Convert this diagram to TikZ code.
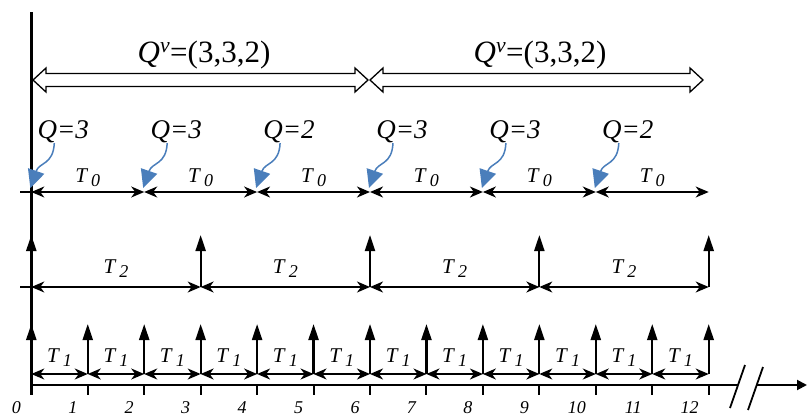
\documentclass[tikz,border=0pt]{standalone}
\usepackage{fontspec}
\setmainfont{Liberation Serif}
\usetikzlibrary{arrows.meta,calc}
\definecolor{qblue}{RGB}{74,126,187}
\tikzset{
  axisline/.style={line width=2.4pt},
  tickline/.style={line width=2pt},
  span/.style={line width=1.6pt,
    {Stealth[length=13pt,width=11pt,inset=4pt]}-{Stealth[length=13pt,width=11pt,inset=4pt]}},
  pulse/.style={line width=2.2pt, -{Triangle[length=16pt,width=10pt]}},
  qarrow/.style={qblue, line width=1.5pt, -{Triangle[length=18pt,width=17pt]}},
  hollow/.style={draw=black, fill=white, line width=1.3pt, line join=miter},
  tlabel/.style={font=\fontsize{21}{22}\selectfont, inner sep=0, anchor=base},
  qlabel/.style={font=\fontsize{27}{28}\selectfont\itshape, inner sep=0, anchor=base},
  qvlabel/.style={font=\fontsize{31}{32}\selectfont, inner sep=0, anchor=base},
  numlabel/.style={font=\fontsize{18}{18}\selectfont\itshape, inner sep=0, anchor=base},
}
\newcommand{\Tsub}[1]{\textit{T}\hspace{3pt}\raisebox{-4pt}{\fontsize{18}{18}\selectfont\textit{#1}}}
\begin{document}
\begin{tikzpicture}[x=1pt,y=-1pt]
\useasboundingbox (0,0) rectangle (807,418);
% tick coordinates
\foreach \i in {0,...,12}{
  \pgfmathsetmacro{\xx}{31.3+56.45*\i}
  \coordinate (a\i) at (\xx,385);
  \coordinate (ab\i) at (\xx,395);
  \coordinate (b\i) at (\xx,374);
  \coordinate (p\i) at (\xx,324);
}
\foreach \j in {0,...,4}{
  \pgfmathsetmacro{\xx}{31.3+56.45*3*\j}
  \coordinate (c\j) at (\xx,287);
  \coordinate (d\j) at (\xx,235);
}
\foreach \k in {0,...,6}{
  \pgfmathsetmacro{\xx}{31.3+56.45*2*\k}
  \coordinate (e\k) at (\xx,192);
}
% axes
\coordinate (ytop) at (31.3,12);
\coordinate (ybot) at (31.3,395);
\draw[axisline] (ytop) -- (ybot);
\coordinate (brkL) at (738,385);
\coordinate (brkR) at (757,385);
\coordinate (xend) at (807,385);
\draw[axisline] (a0) -- (brkL);
\draw[line width=2pt,-{Triangle[length=10pt,width=10pt]}] (brkR) -- (xend);
\coordinate (s1a) at (730,408); \coordinate (s1b) at (745,365);
\coordinate (s2a) at (748,410); \coordinate (s2b) at (763,367);
\draw[line width=1.8pt] (s1a) -- (s1b);
\draw[line width=1.8pt] (s2a) -- (s2b);
\foreach \i in {1,...,12}{ \draw[tickline] (a\i) -- (ab\i); }
\coordinate (yt0) at (20,192); \coordinate (yt2) at (20,287);
\draw[tickline] (yt0) -- (e0);
\draw[tickline] (yt2) -- (c0);
% tick numbers
\foreach \i in {0,...,9}{
  \node[numlabel] (n\i) at ($(a\i)+(-15,28)$) {\i};
}
\foreach \i in {10,11,12}{
  \node[numlabel] (n\i) at ($(a\i)+(-19,28)$) {\i};
}
% T1 row
\foreach \i [count=\n from 1] in {0,...,11}{
  \draw[span] (b\i) -- (b\n);
  \node[tlabel] (tone\i) at ($(b\i)!0.5!(b\n)+(0,-12)$) {\Tsub{1}};
}
\foreach \i in {0,...,12}{ \draw[pulse] (b\i) -- (p\i); }
% T2 row
\foreach \j [count=\n from 1] in {0,...,3}{
  \draw[span] (c\j) -- (c\n);
  \node[tlabel] (ttwo\j) at ($(c\j)!0.5!(c\n)+(0,-14)$) {\Tsub{2}};
}
\foreach \j in {0,...,4}{ \draw[pulse] (c\j) -- (d\j); }
% T0 row
\foreach \k [count=\n from 1] in {0,...,5}{
  \draw[span] (e\k) -- (e\n);
  \node[tlabel] (tzero\k) at ($(e\k)!0.5!(e\n)+(0,-10)$) {\Tsub{0}};
}
% Q labels and blue arrows
\foreach \k/\q in {0/3,1/3,2/2,3/3,4/3,5/2}{
  \node[qlabel] (q\k) at ($(e\k)+(32,-54)$) {Q=\q};
  \coordinate (qs\k) at ($(e\k)+(23,-49)$);
  \coordinate (qe\k) at ($(e\k)+(-1,-4)$);
  \draw[qarrow] (qs\k) .. controls ($(qs\k)+(-1,22)$) and ($(qe\k)+(9,-26)$) .. (qe\k);
}
% Qv hollow double arrows
\draw[hollow] (33,80) -- (46,68) -- (46,73.5) -- (355,73.5) -- (355,68) -- (368,80)
  -- (355,92) -- (355,86.5) -- (46,86.5) -- (46,92) -- cycle;
\draw[hollow] (370,80) -- (383,68) -- (383,73.5) -- (690,73.5) -- (690,68) -- (703,80)
  -- (690,92) -- (690,86.5) -- (383,86.5) -- (383,92) -- cycle;
\node[qvlabel] (qv1) at (204,62) {\textit{Q}\textsuperscript{\textit{v}}=(3,3,2)};
\node[qvlabel] (qv2) at (540,62) {\textit{Q}\textsuperscript{\textit{v}}=(3,3,2)};
\end{tikzpicture}
\end{document}
